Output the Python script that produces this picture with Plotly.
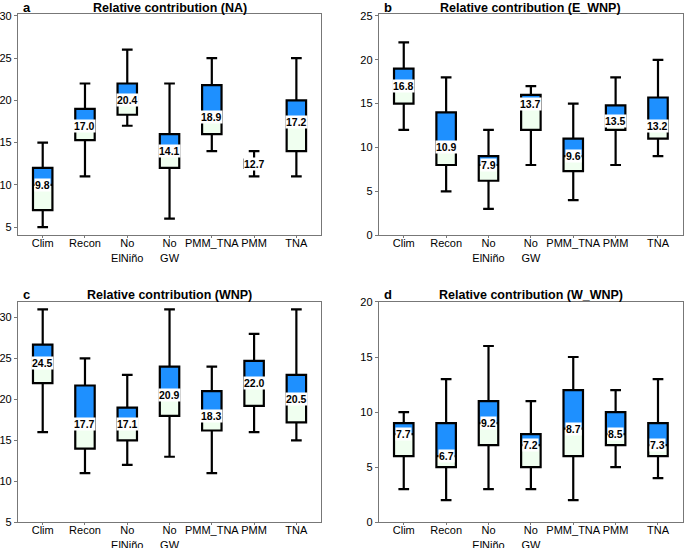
import plotly.graph_objects as go
from plotly.subplots import make_subplots

categories = ["Clim", "Recon", "No<br>ElNiño", "No<br>GW", "PMM_TNA", "PMM", "TNA"]

# Panel a: NA
na_low = [5, 11, 17, 6, 14, 11, 11]
na_q1 = [7, 15.3, 18.3, 12, 16, 12, 14]
na_med = [10, 17, 20, 14, 18, 12.5, 17.5]
na_q3 = [12, 19, 22, 16, 21.8, 13, 20]
na_high = [15, 22, 26, 22, 25, 14, 25]
na_mean = [9.8, 17.0, 20.4, 14.1, 18.9, 12.7, 17.2]

# Panel b: E_WNP
ewnp_low = [12, 5, 3, 8, 4, 8, 9]
ewnp_q1 = [15, 8, 6.2, 12, 7.3, 12, 11]
ewnp_med = [17, 10, 8, 15, 9, 13, 12.5]
ewnp_q3 = [19, 14, 9, 16, 11, 14.8, 15.7]
ewnp_high = [22, 18, 12, 17, 15, 18, 20]
ewnp_mean = [16.8, 10.9, 7.9, 13.7, 9.6, 13.5, 13.2]

# Panel c: WNP
wnp_low = [16, 11, 12, 13, 11, 16, 15]
wnp_q1 = [22, 14, 15, 18, 16.2, 19.2, 17.2]
wnp_med = [24.5, 17, 17, 20.5, 18, 22, 20]
wnp_q3 = [26.7, 21.7, 19, 24, 21, 24.7, 23]
wnp_high = [31, 25, 23, 31, 24, 28, 31]
wnp_mean = [24.5, 17.7, 17.1, 20.9, 18.3, 22.0, 20.5]

# Panel d: W_WNP
wwnp_low = [3, 2, 3, 3, 2, 5, 4]
wwnp_q1 = [6, 5, 7, 5, 6, 7, 6]
wwnp_med = [8, 6, 9, 7, 8.5, 8, 7]
wwnp_q3 = [9, 9, 11, 8, 12, 10, 9]
wwnp_high = [10, 13, 16, 11, 15, 12, 13]
wwnp_mean = [7.7, 6.7, 9.2, 7.2, 8.7, 8.5, 7.3]

panels = [
    ("a", "Relative contribution (NA)", na_low, na_q1, na_med, na_q3, na_high, na_mean, [4.05, 30.2], 1, 1),
    ("b", "Relative contribution (E_WNP)", ewnp_low, ewnp_q1, ewnp_med, ewnp_q3, ewnp_high, ewnp_mean, [0, 25.2], 1, 2),
    ("c", "Relative contribution (WNP)", wnp_low, wnp_q1, wnp_med, wnp_q3, wnp_high, wnp_mean, [5, 31.9], 2, 1),
    ("d", "Relative contribution (W_WNP)", wwnp_low, wwnp_q1, wwnp_med, wwnp_q3, wwnp_high, wwnp_mean, [0, 20], 2, 2),
]

BLUE = "#1E90FF"
PALE = "#F0FFF0"
BW = 0.46
FONT = "Liberation Sans, Arial, sans-serif"

fig = make_subplots(rows=2, cols=2)

x_domains = {1: [0.026, 0.469], 2: [0.553, 0.997]}
y_domains = {1: [0.571, 0.974], 2: [0.047, 0.449]}
title_y = {1: 0.986, 2: 0.4625}

annotations = []
for idx, (letter, title, lo, q1, med, q3, hi, mean, yr, r, c) in enumerate(panels):
    # lower half of box (Q1 to median)
    fig.add_trace(go.Bar(x=categories, y=[m - a for m, a in zip(med, q1)], base=q1,
                         marker=dict(color=PALE, line=dict(width=0)), width=BW,
                         showlegend=False, hoverinfo="skip"), row=r, col=c)
    # upper half of box (median to Q3)
    fig.add_trace(go.Bar(x=categories, y=[b - m for b, m in zip(q3, med)], base=med,
                         marker=dict(color=BLUE, line=dict(width=0)), width=BW,
                         showlegend=False, hoverinfo="skip"), row=r, col=c)
    # box outline, median and whiskers
    fig.add_trace(go.Box(x=categories, q1=q1, median=med, q3=q3,
                         lowerfence=lo, upperfence=hi,
                         fillcolor="rgba(0,0,0,0)", line=dict(color="black", width=2.2),
                         width=BW, whiskerwidth=0.55, boxpoints=False,
                         showlegend=False), row=r, col=c)
    axn = "" if idx == 0 else str(idx + 1)
    for cat, m, mv in zip(categories, med, mean):
        annotations.append(dict(x=cat, y=m, xref="x" + axn, yref="y" + axn,
                                text="<b>%.1f</b>" % mv, showarrow=False,
                                bgcolor="white", borderpad=0,
                                font=dict(size=10.5, color="black", family=FONT)))
    xd = x_domains[c]
    yd = y_domains[r]
    annotations.append(dict(x=(xd[0] + xd[1]) / 2, y=title_y[r], xref="paper", yref="paper",
                            text="<b>%s</b>" % title, showarrow=False,
                            xanchor="center", yanchor="middle",
                            font=dict(size=12.5, color="black", family=FONT)))
    annotations.append(dict(x=xd[0] + 0.004, y=title_y[r], xref="paper", yref="paper",
                            text="<b>%s</b>" % letter, showarrow=False,
                            xanchor="left", yanchor="middle",
                            font=dict(size=13, color="black", family=FONT)))
    fig.update_xaxes(domain=xd, showline=True, mirror=True, linecolor="#777", linewidth=1,
                     ticks="outside", ticklen=2, tickcolor="#777", showgrid=False,
                     tickangle=0, automargin=False, ticklabelstandoff=-4,
                     tickfont=dict(size=11, color="black", family=FONT),
                     row=r, col=c)
    fig.update_yaxes(domain=yd, range=yr, dtick=5, showline=True, mirror=True,
                     linecolor="#777", linewidth=1, ticks="outside", ticklen=3,
                     tickcolor="#777", showgrid=False, zeroline=False, automargin=False,
                     tickfont=dict(size=11, color="black", family=FONT),
                     row=r, col=c)

fig.update_layout(width=685, height=548, margin=dict(l=0, r=0, t=0, b=0),
                  plot_bgcolor="white", paper_bgcolor="white",
                  barmode="overlay", boxmode="overlay",
                  annotations=annotations, font=dict(family=FONT))

fig.write_html("out.html", config={"displayModeBar": False},
               post_script="document.body.style.margin='0';")
